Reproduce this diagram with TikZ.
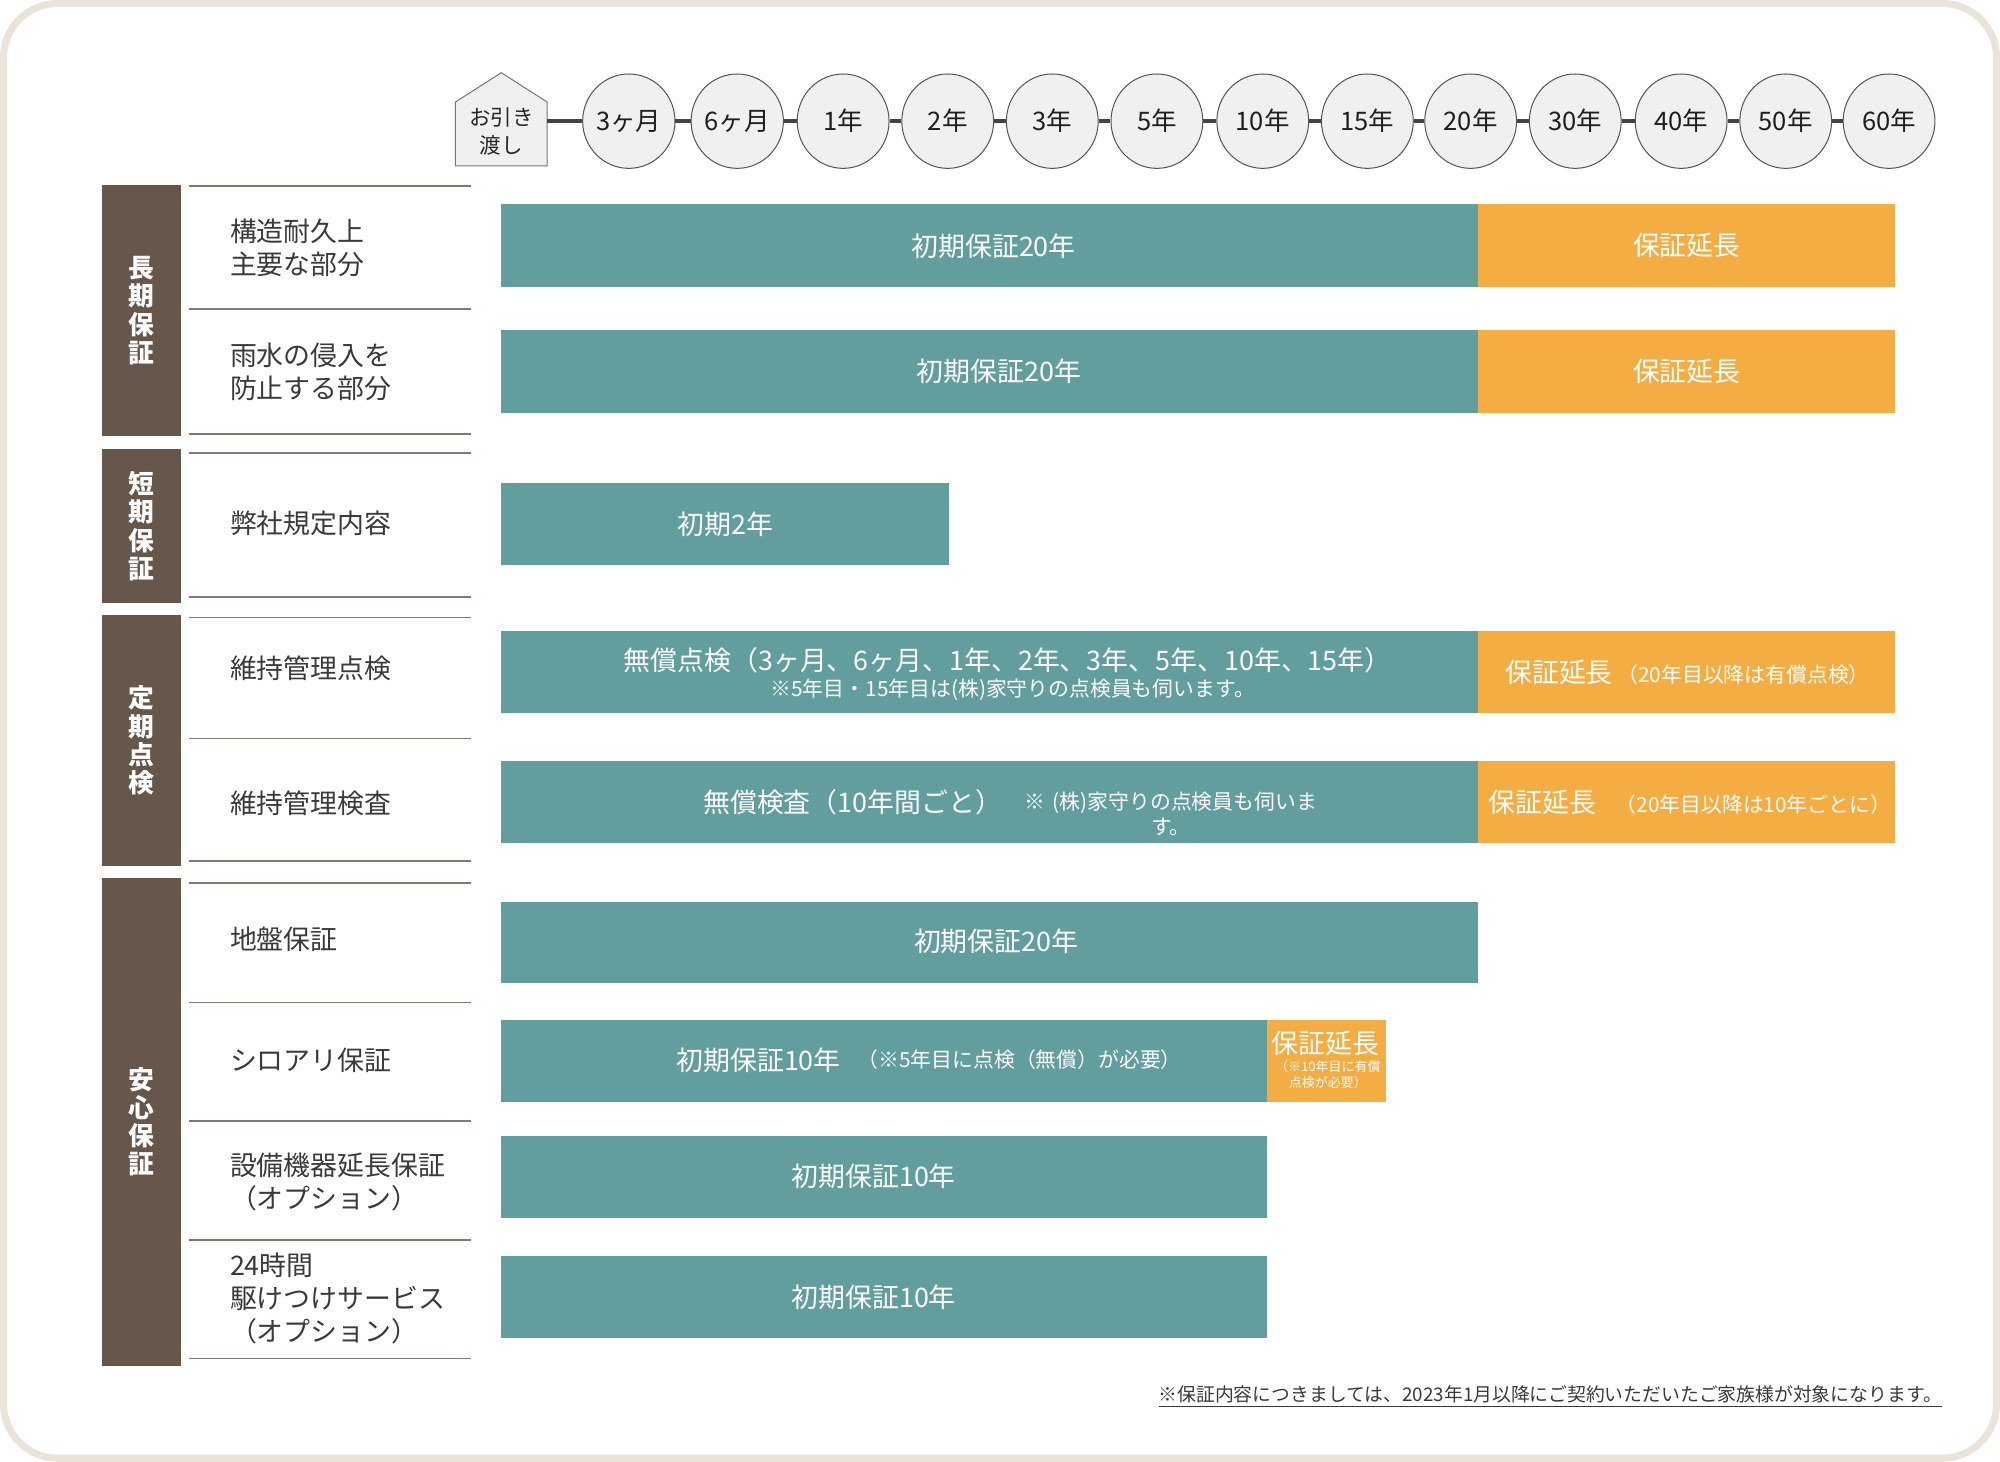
\documentclass[tikz,border=0pt]{standalone}
\usepackage{fontspec}
\setmainfont{Noto Sans CJK JP}
\usetikzlibrary{shapes.geometric}
\definecolor{tealc}{HTML}{629E9E}
\definecolor{orangec}{HTML}{F4AD43}
\definecolor{brownc}{HTML}{66574A}
\definecolor{framec}{HTML}{E9E3D9}
\definecolor{sepc}{HTML}{85776A}
\definecolor{labelc}{HTML}{3A3A3A}
\definecolor{circfill}{HTML}{F0F0F0}
\definecolor{circline}{HTML}{555555}
\definecolor{tlc}{HTML}{444444}
\newcommand{\rbox}[6]{\node[#6, minimum width={(#4-#2)*0.02cm}, minimum height={(#5-#3)*0.02cm}] (#1) at ({(#2+#4)/2},{(#3+#5)/2}) {};}
\newcommand{\fs}[2]{\fontsize{#1}{#2}\selectfont}
\tikzset{
  box/.style={inner sep=0pt, outer sep=0pt, draw=none},
  tealbar/.style={box, fill=tealc},
  orangebar/.style={box, fill=orangec},
  catbox/.style={box, fill=brownc},
  cattext/.style={text=white, font=\fs{11.5pt}{12.6pt}\bfseries, align=center, inner sep=0pt},
  bartext/.style={text=white, font=\fs{12pt}{14pt}, inner sep=0pt},
  smalltext/.style={text=white, font=\fs{9.3pt}{11.4pt}, inner sep=0pt},
  label/.style={text=labelc, font=\fs{12pt}{14.8pt}, align=left, anchor=west, inner sep=0pt},
  sepline/.style={draw=sepc, line width=0.75pt},
  tick/.style={ellipse, draw=circline, line width=0.45pt, fill=circfill, minimum width=1.44cm, minimum height=1.48cm, inner sep=0pt, text=black!88, font=\fs{11.4pt}{13pt}},
  tl/.style={draw=tlc, line width=0.06cm},
}
\begin{document}
\begin{tikzpicture}[x=0.02cm,y=-0.02cm]
\useasboundingbox (0,0) rectangle (1568,1146);
\fill[white] (0,0) rectangle (1568,1146);
\draw[framec, line width=0.11cm, rounded corners=0.85cm] (2.75,2.75) rectangle (1565.25,1143.25);

% ---------- timeline ----------
\node[box, minimum width=1.44cm, minimum height=1cm] (house) at (393,105) {};
\draw[fill=circfill, draw=circline!80, line width=0.45pt] (house.south west) -- (house.north west) -- (393,57) -- (house.north east) -- (house.south east) -- cycle;
\node[align=center, inner sep=0pt, text=black!85, font=\fs{9.6pt}{12.5pt}] (housetext) at (393,103) {お引き\\渡し};
\foreach \n/\x/\t in {c1/493/3ヶ月, c2/578/6ヶ月, c3/661/1年, c4/743/2年, c5/825/3年, c6/907/5年, c7/990/10年, c8/1072/15年, c9/1153/20年, c10/1235/30年, c11/1318/40年, c12/1400/50年, c13/1481/60年}
  \node[tick] (\n) at (\x,95) {\t};
\draw[tl] (house.east |- c1) -- (c1);
\foreach \a/\b in {c1/c2, c2/c3, c3/c4, c4/c5, c5/c6, c6/c7, c7/c8, c8/c9, c9/c10, c10/c11, c11/c12, c12/c13}
  \draw[tl] (\a) -- (\b);

% ---------- category boxes ----------
\rbox{k1}{80}{145}{142}{342}{catbox}
\rbox{k2}{80}{352}{142}{473}{catbox}
\rbox{k3}{80}{482}{142}{679}{catbox}
\rbox{k4}{80}{688}{142}{1071}{catbox}
\node[cattext] (k1t) at (k1) {長\\期\\保\\証};
\node[cattext] (k2t) at (k2) {短\\期\\保\\証};
\node[cattext] (k3t) at (k3) {定\\期\\点\\検};
\node[cattext] (k4t) at (k4) {安\\心\\保\\証};

% ---------- separator lines ----------
\foreach \y in {146, 242, 340, 355, 468, 484, 579, 675, 692, 786, 879, 972, 1065}
  \draw[sepline] (148,\y) -- (369,\y);

% ---------- row labels ----------
\node[label] (l1) at (180,194) {構造耐久上\\主要な部分};
\node[label] (l2) at (180,291.5) {雨水の侵入を\\防止する部分};
\node[label] (l3) at (180,410) {弊社規定内容};
\node[label] (l4) at (180,524) {維持管理点検};
\node[label] (l5) at (180,630) {維持管理検査};
\node[label] (l6) at (180,736) {地盤保証};
\node[label] (l7) at (180,831) {シロアリ保証};
\node[label] (l8) at (180,926.5) {設備機器延長保証\\（オプション）};
\node[label] (l9) at (180,1018) {24時間\\駆けつけサービス\\（オプション）};

% ---------- bars ----------
\rbox{b1}{393}{160}{1159}{225}{tealbar}
\rbox{o1}{1159}{160}{1486}{225}{orangebar}
\node[bartext] (b1t) at (779,193) {初期保証20年};
\node[bartext] (o1t) at (o1) {保証延長};

\rbox{b2}{393}{259}{1159}{324}{tealbar}
\rbox{o2}{1159}{259}{1486}{324}{orangebar}
\node[bartext] (b2t) at (783,291) {初期保証20年};
\node[bartext] (o2t) at (o2) {保証延長};

\rbox{b3}{393}{379}{744}{443}{tealbar}
\node[bartext] (b3t) at (b3) {初期2年};

\rbox{b4}{393}{495}{1159}{559}{tealbar}
\rbox{o4}{1159}{495}{1486}{559}{orangebar}
\node[bartext] (b4t) at (790,518) {無償点検（3ヶ月、6ヶ月、1年、2年、3年、5年、10年、15年）};
\node[smalltext] (b4s) at (794,541) {※5年目・15年目は(株)家守りの点検員も伺います。};
\node[bartext] (o4t) at (1323,527) {保証延長\,{\fs{9.3pt}{11pt}（20年目以降は有償点検）}};

\rbox{b5}{393}{597}{1159}{661}{tealbar}
\rbox{o5}{1159}{597}{1486}{661}{orangebar}
\node[bartext, anchor=west] (b5t) at (551,629) {無償検査（10年間ごと）};
\node[smalltext, align=center, text width=4.8cm] (b5s) at (918,638) {※ (株)家守りの点検員も伺いま\\す。};
\node[bartext] (o5t) at (1325,629) {保証延長\hspace{0.3cm}{\fs{9.3pt}{11pt}（20年目以降は10年ごとに）}};

\rbox{b6}{393}{707}{1159}{771}{tealbar}
\node[bartext] (b6t) at (781,738) {初期保証20年};

\rbox{b7}{393}{800}{993}{864}{tealbar}
\rbox{o7}{993}{800}{1087}{864}{orangebar}
\node[bartext, anchor=west] (b7t) at (530,831) {初期保証10年};
\node[smalltext, anchor=west] (b7s) at (672,831) {（※5年目に点検（無償）が必要）};
\node[bartext, font=\fs{12pt}{14pt}] (o7t) at (1039,818) {保証延長};
\node[text=white, font=\fs{5.8pt}{7.4pt}, align=center, inner sep=0pt] (o7s) at (1041,842.5) {（※10年目に有償\\点検が必要）};

\rbox{b8}{393}{891}{993}{955}{tealbar}
\node[bartext] (b8t) at (685,922) {初期保証10年};

\rbox{b9}{393}{985}{993}{1049}{tealbar}
\node[bartext] (b9t) at (685,1017) {初期保証10年};

% ---------- footnote ----------
\node[anchor=west, inner sep=0pt, text=labelc, font=\fs{8.4pt}{10pt}] (fn) at (908,1095) {\underline{※保証内容につきましては、2023年1月以降にご契約いただいたご家族様が対象になります。}};
\end{tikzpicture}
\end{document}
